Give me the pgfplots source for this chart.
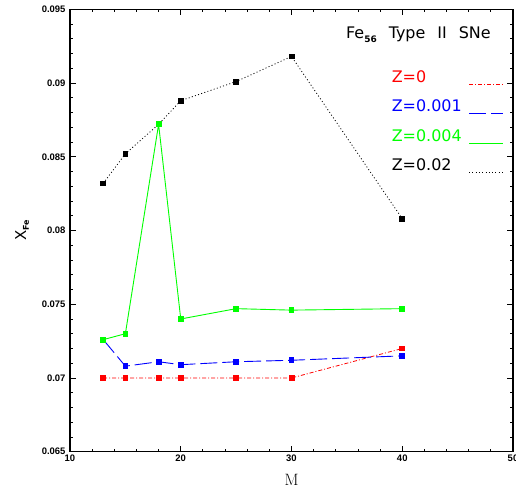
\documentclass[border=0pt]{standalone}
\usepackage{pgfplots}
\pgfplotsset{compat=1.18}
\usepackage{fontspec}
\newfontfamily\dejavu{DejaVu Sans}
\newfontfamily\libsans{Liberation Sans}
\begin{document}
\begin{tikzpicture}
\begin{axis}[
  scale only axis,
  width=443bp, height=442.4bp,
  xmin=10, xmax=50, ymin=0.065, ymax=0.095,
  xtick={10,20,30,40,50},
  xticklabels={10,20,30,40,50},
  ytick={0.065,0.07,0.075,0.08,0.085,0.09,0.095},
  yticklabels={0.065,0.07,0.075,0.08,0.085,0.09,0.095},
  minor xtick={12,14,16,18,22,24,26,28,32,34,36,38,42,44,46,48},
  minor ytick={0.066,0.067,0.068,0.069,0.071,0.072,0.073,0.074,0.076,0.077,0.078,0.079,0.081,0.082,0.083,0.084,0.086,0.087,0.088,0.089,0.091,0.092,0.093,0.094},
  tick align=inside,
  major tick length=6bp, minor tick length=3bp,
  tick style={black, line width=0.9bp},
  axis line style={line width=1.2bp},
  ticklabel style={font=\libsans\bfseries\fontsize{9.5}{10}\selectfont},
  yticklabel style={xshift=-1bp},
  scaled y ticks=false,
  xlabel={\fontsize{16.5}{18}\selectfont M},
  xlabel style={at={(axis description cs:0.5,-0.063)}, anchor=center},
  ylabel={\dejavu\fontsize{15}{16}\selectfont X\raisebox{-0.35ex}{\bfseries\fontsize{8}{9}\selectfont Fe}},
  ylabel style={at={(axis description cs:-0.108,0.5)}, anchor=center, rotate=0},
  mark size=2.4bp,
]
% Z=0.02 (black, dotted)
\addplot[black, line width=0.8bp, dash pattern=on 1bp off 2.3bp, mark=square*, mark options={solid}]
  coordinates {(13,0.0832) (15,0.0852) (18,0.0872) (20,0.0888) (25,0.0901) (30,0.0918) (40,0.0808)};
% Z=0 (red, dash-dot)
\addplot[red, line width=0.8bp, dash pattern=on 4bp off 2bp on 1bp off 2bp, mark=square*, mark options={solid}]
  coordinates {(13,0.0700) (15,0.0700) (18,0.0700) (20,0.0700) (25,0.0700) (30,0.0700) (40,0.0720)};
% Z=0.001 (blue, long dashes)
\addplot[blue, line width=0.9bp, dash pattern=on 17bp off 5bp, mark=square*, mark options={solid}]
  coordinates {(13,0.0726) (15,0.0708) (18,0.0711) (20,0.0709) (25,0.0711) (30,0.0712) (40,0.0715)};
% Z=0.004 (green, solid)
\addplot[green, line width=0.9bp, mark=square*]
  coordinates {(13,0.0726) (15,0.0730) (18,0.0872) (20,0.0740) (25,0.0747) (30,0.0746) (40,0.0747)};

% legend (text left, line sample right)
\begin{scope}[every node/.style={anchor=base west, inner sep=0pt, font=\dejavu\fontsize{16}{17}\selectfont}]
\node[text=red]   at (axis description cs:0.726,0.8346) {Z=0};
\node[text=blue]  at (axis description cs:0.726,0.7679) {Z=0.001};
\node[text=green] at (axis description cs:0.726,0.7012) {Z=0.004};
\node[text=black] at (axis description cs:0.726,0.6345) {Z=0.02};
\end{scope}
\draw[red, line width=0.8bp, dash pattern=on 4bp off 2bp on 1bp off 2bp]
  (axis description cs:0.9007,0.8312) -- (axis description cs:0.9767,0.8312);
\draw[blue, line width=0.9bp, dash pattern=on 17bp off 5bp]
  (axis description cs:0.9007,0.7645) -- (axis description cs:0.9767,0.7645);
\draw[green, line width=0.9bp]
  (axis description cs:0.9007,0.6978) -- (axis description cs:0.9767,0.6978);
\draw[black, line width=0.8bp, dash pattern=on 1bp off 2.3bp]
  (axis description cs:0.9007,0.6311) -- (axis description cs:0.9767,0.6311);

\node[anchor=base west, font=\dejavu\fontsize{16}{17}\selectfont, inner sep=0pt]
  at (axis description cs:0.623,0.933) {Fe\raisebox{-0.45ex}{\bfseries\fontsize{9}{10}\selectfont 56}\hspace{12bp}Type\hspace{12bp}II\hspace{12bp}SNe};
\end{axis}
\pgfresetboundingbox
\path[use as bounding box] (current axis.south west) ++(-70bp,-41.3bp) rectangle ++(516bp,493bp);
\end{tikzpicture}
\end{document}
